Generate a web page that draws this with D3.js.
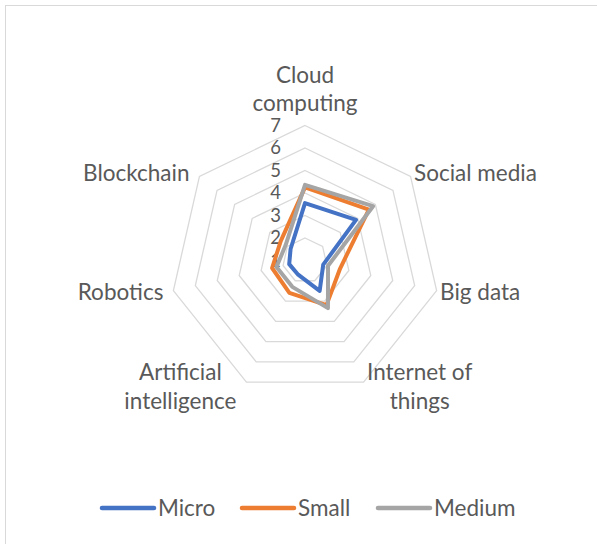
<!DOCTYPE html>
<html>
<head>
<meta charset="utf-8">
<script src="https://cdn.jsdelivr.net/npm/d3@7"></script>
<style>
  body { margin: 0; background: #fff; }
  svg text { font-family: Lato, "Open Sans", sans-serif; fill: #595959; }
</style>
</head>
<body>
<div id="chart"></div>
<script>
var categories = ['Cloud computing', 'Social media', 'Big data', 'Internet of things',
  'Artificial intelligence', 'Robotics', 'Blockchain'];
// label line breaks as they wrap in the picture
var labelLines = [['Cloud', 'computing'], ['Social media'], ['Big data'], ['Internet of', 'things'],
  ['Artificial', 'intelligence'], ['Robotics'], ['Blockchain']];
var tickValues = [1, 2, 3, 4, 5, 6, 7];

var micro = [3.55, 3.9, 1.83, 2.5, 1.7, 1.72, 1.82];
var small = [4.25, 4.63, 2.6, 3.2, 2.6, 2.5, 2.38];
var medium = [4.36, 4.87, 2.05, 3.35, 2.3, 2.3, 2.1];

var seriesNames = ['Micro', 'Small', 'Medium'];
var seriesColors = ['#4472C4', '#ED7D31', '#A5A5A5'];
var seriesData = [micro, small, medium];

var width = 597;
var height = 544;
var cx = 305;
var cy = 260.5;
var radius = 135;
var fontSize = 22.5;
var tickFontSize = 18.5;

var svg = d3.select('#chart')
  .append('svg')
  .attr('width', width)
  .attr('height', height);

// chart area border
svg.append('rect')
  .attr('x', 5.5)
  .attr('y', 5.5)
  .attr('width', width)
  .attr('height', height)
  .attr('fill', 'none')
  .attr('stroke', '#d9d9d9')
  .attr('stroke-width', 1);

var r = d3.scaleLinear().domain([1, 7]).range([0, radius]);
var step = 2 * Math.PI / categories.length;

var g = svg.append('g').attr('transform', 'translate(' + cx + ',' + cy + ')');

var radial = d3.lineRadial()
  .angle(function (d, i) { return i * step; })
  .radius(function (d) { return r(d); })
  .curve(d3.curveLinearClosed);

// grid rings
g.selectAll('.ring')
  .data(tickValues.slice(1))
  .enter()
  .append('path')
  .attr('class', 'ring')
  .attr('d', function (t) { return radial(categories.map(function () { return t; })); })
  .attr('fill', 'none')
  .attr('stroke', '#d9d9d9')
  .attr('stroke-width', 1.3);

// value labels
g.selectAll('.tick')
  .data(tickValues)
  .enter()
  .append('text')
  .attr('class', 'tick')
  .attr('x', -24)
  .attr('y', function (t) { return -r(t); })
  .attr('dy', '0.35em')
  .attr('text-anchor', 'end')
  .style('font-size', tickFontSize + 'px')
  .text(function (t) { return t; });

// series
g.selectAll('.series')
  .data(seriesData)
  .enter()
  .append('path')
  .attr('class', 'series')
  .attr('d', function (d) { return radial(d); })
  .attr('fill', 'none')
  .attr('stroke', function (d, i) { return seriesColors[i]; })
  .attr('stroke-width', 4)
  .attr('stroke-linejoin', 'round');

// category labels
var lineH = 28.5;
categories.forEach(function (c, i) {
  var a = i * step;
  var sin = Math.sin(a);
  var cos = Math.cos(a);
  var vx = r(7) * sin;
  var vy = -r(7) * cos;
  var lines = labelLines[i];
  var t = g.append('text').style('font-size', fontSize + 'px').attr('text-anchor', 'middle');
  lines.forEach(function (l, k) {
    t.append('tspan').attr('x', 0).attr('y', k * lineH).text(l);
  });
  var w = d3.max(t.selectAll('tspan').nodes(), function (n) { return n.getComputedTextLength(); });
  var blockH = lines.length * lineH;
  var bx;
  if (Math.abs(sin) < 0.1) bx = vx;
  else if (sin > 0) bx = vx + 3.5 + w / 2;
  else bx = vx - 10 - w / 2;
  var by;
  if (cos > 0.9) by = vy - 8 - blockH / 2;
  else by = vy - cos * 5;
  // place block so its vertical center is at by
  var firstBase = by - blockH / 2 + lineH / 2 + fontSize * 0.35;
  t.attr('transform', 'translate(' + bx + ',' + firstBase + ')');
});

// legend
var legendX = [100, 240, 376];
var legend = svg.selectAll('.legend')
  .data(seriesNames)
  .enter()
  .append('g')
  .attr('class', 'legend')
  .attr('transform', function (d, i) { return 'translate(' + legendX[i] + ',508)'; });

legend.append('line')
  .attr('x1', 2)
  .attr('x2', 54)
  .attr('stroke', function (d, i) { return seriesColors[i]; })
  .attr('stroke-width', 4.5)
  .attr('stroke-linecap', 'round');

legend.append('text')
  .attr('x', 58)
  .attr('dy', '0.35em')
  .style('font-size', fontSize + 'px')
  .text(function (d) { return d; });
</script>
</body>
</html>
